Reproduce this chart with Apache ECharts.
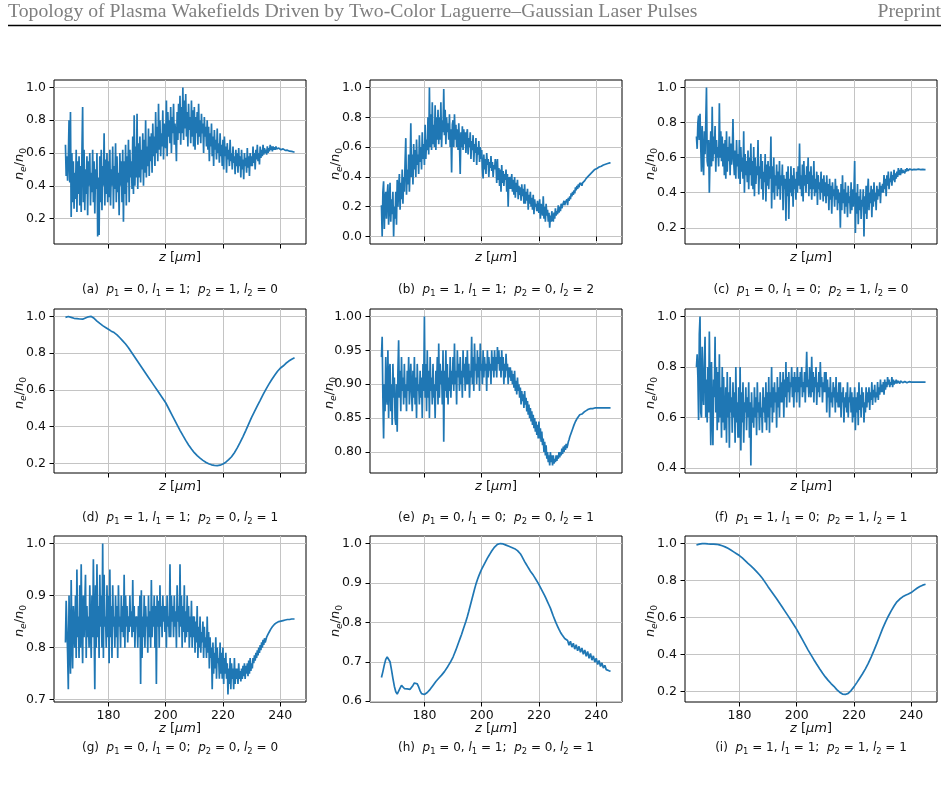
<!DOCTYPE html>
<html><head><meta charset="utf-8">
<script src="https://cdn.jsdelivr.net/npm/echarts@6/dist/echarts.min.js"></script>
<style>html,body{margin:0;padding:0;background:#fff}#c{width:949px;height:789px}</style>
</head><body><div id="c"></div>
<script>
// ---------- text ----------
const headerTitle = 'Topology of Plasma Wakefields Driven by Two-Color Laguerre–Gaussian Laser Pulses';
const headerRight = 'Preprint';
const panelLetters = ['a','b','c','d','e','f','g','h','i'];
const p1Values = [0,1,0,1,0,1,0,0,1];
const l1Values = [1,1,0,1,0,0,0,1,1];
const p2Values = [1,0,1,0,0,1,0,0,1];
const l2Values = [0,2,0,1,1,1,0,1,1];

// ---------- axes ----------
const xTicks = [180,200,220,240];
const yTicksA = [0.2,0.4,0.6,0.8,1.0];
const yTicksB = [0.0,0.2,0.4,0.6,0.8,1.0];
const yTicksC = [0.2,0.4,0.6,0.8,1.0];
const yTicksD = [0.2,0.4,0.6,0.8,1.0];
const yTicksE = [0.80,0.85,0.90,0.95,1.00];
const yTicksF = [0.4,0.6,0.8,1.0];
const yTicksG = [0.7,0.8,0.9,1.0];
const yTicksH = [0.6,0.7,0.8,0.9,1.0];
const yTicksI = [0.2,0.4,0.6,0.8,1.0];
const yDecimals = [1,1,1,1,2,1,1,1,1];

// z sampling positions (micrometres)
function zGrid(step){ const a=[]; const n=Math.round(80/step); for(let k=0;k<=n;k++) a.push(+(165+k*step).toFixed(2)); return a; }
const zDense = zGrid(0.25);  // 165 .. 245
const zFine = zGrid(0.5);
const zCoarse = zGrid(1);

// ---------- series values (n_e/n_0) ----------
const densityA = [
0.65,0.46,0.58,0.43,0.57,0.80,0.42,0.85,0.21,0.60, 0.30,0.55,0.26,0.48,0.32,0.62,0.24,0.55,0.35,0.58,
0.28,0.52,0.24,0.60,0.88,0.30,0.62,0.25,0.50,0.35, 0.58,0.22,0.55,0.40,0.60,0.28,0.48,0.36,0.62,0.30,
0.55,0.23,0.50,0.38,0.60,0.09,0.45,0.10,0.58,0.30, 0.62,0.25,0.52,0.40,0.72,0.28,0.56,0.35,0.60,0.30,
0.55,0.33,0.62,0.28,0.50,0.40,0.64,0.26,0.52,0.38, 0.66,0.30,0.58,0.36,0.48,0.22,0.60,0.40,0.55,0.30,
0.62,0.18,0.55,0.35,0.65,0.28,0.58,0.42,0.68,0.30, 0.62,0.45,0.55,0.38,0.70,0.35,0.83,0.40,0.64,0.45,
0.84,0.38,0.66,0.45,0.70,0.42,0.62,0.50,0.72,0.40, 0.68,0.48,0.80,0.45,0.64,0.52,0.75,0.46,0.70,0.55,
0.72,0.48,0.78,0.58,0.70,0.52,0.85,0.60,0.76,0.55, 0.90,0.62,0.80,0.58,0.72,0.64,0.86,0.56,0.78,0.66,
0.63,0.92,0.58,0.85,0.70,0.80,0.66,0.88,0.60,0.82, 0.72,0.90,0.65,0.78,0.70,0.55,0.85,0.68,0.90,0.72,
0.95,0.65,0.88,0.72,1.00,0.68,0.92,0.75,0.96,0.70, 0.85,0.64,0.90,0.74,0.82,0.66,0.92,0.70,0.86,0.64,
0.88,0.62,0.82,0.72,0.85,0.65,0.90,0.70,0.80,0.66, 0.84,0.72,0.78,0.60,0.82,0.70,0.76,0.64,0.80,0.62,
0.76,0.55,0.72,0.64,0.78,0.58,0.70,0.52,0.74,0.62, 0.68,0.56,0.75,0.60,0.66,0.54,0.72,0.58,0.65,0.52,
0.68,0.50,0.70,0.58,0.64,0.48,0.66,0.56,0.62,0.52, 0.68,0.55,0.60,0.50,0.64,0.54,0.58,0.47,0.62,0.52,
0.60,0.48,0.63,0.52,0.58,0.45,0.62,0.50,0.56,0.44, 0.60,0.52,0.57,0.48,0.63,0.51,0.58,0.46,0.60,0.52,
0.58,0.52,0.64,0.54,0.60,0.50,0.62,0.56,0.65,0.55, 0.60,0.53,0.64,0.57,0.62,0.58,0.65,0.59,0.63,0.60,
0.62,0.59,0.64,0.60,0.63,0.61,0.65,0.62,0.64,0.61, 0.64,0.62,0.635,0.62,0.64,0.625,0.635,0.62,0.63,0.62,
0.63,0.62,0.628,0.618,0.625,0.617,0.622,0.616,0.62,0.614, 0.617,0.613,0.614,0.611,0.612,0.609,0.61,0.607,0.607,0.606,
0.605];

const densityB = [
0.21,0.00,0.30,0.37,0.05,0.25,0.30,0.12,0.28,0.35, 0.08,0.22,0.36,0.10,0.25,0.15,0.30,0.00,0.20,0.12,
0.30,0.08,0.38,0.20,0.32,0.42,0.18,0.36,0.25,0.45, 0.22,0.40,0.30,0.50,0.66,0.28,0.45,0.35,0.55,0.30,
0.45,0.76,0.40,0.55,0.35,0.62,0.45,0.58,0.40,0.65, 0.48,0.55,0.42,0.68,0.50,0.60,0.45,0.70,0.52,0.62,
0.48,0.75,0.52,0.65,0.58,0.80,0.55,1.00,0.60,0.82, 0.58,0.90,0.62,0.75,0.60,0.88,0.58,0.80,0.65,0.85,
0.62,0.80,0.65,0.90,0.60,0.78,0.70,0.99,0.68,0.85, 0.62,0.80,0.70,0.76,0.65,0.82,0.60,0.72,0.43,0.75,
0.78,0.60,0.82,0.65,0.75,0.60,0.72,0.58,0.76,0.62, 0.42,0.70,0.60,0.74,0.58,0.72,0.62,0.70,0.56,0.68,
0.72,0.55,0.66,0.60,0.70,0.52,0.64,0.58,0.68,0.50, 0.62,0.56,0.66,0.48,0.60,0.55,0.64,0.50,0.60,0.52,
0.58,0.45,0.39,0.55,0.45,0.52,0.42,0.56,0.48,0.52, 0.40,0.50,0.46,0.54,0.44,0.50,0.40,0.48,0.45,0.52,
0.48,0.36,0.52,0.38,0.46,0.34,0.45,0.30,0.48,0.36, 0.44,0.34,0.42,0.38,0.45,0.30,0.42,0.20,0.40,0.32,
0.40,0.32,0.42,0.30,0.38,0.28,0.40,0.26,0.36,0.30, 0.38,0.25,0.34,0.28,0.33,0.24,0.35,0.27,0.32,0.22,
0.35,0.22,0.30,0.24,0.32,0.18,0.28,0.22,0.30,0.20, 0.26,0.18,0.28,0.15,0.25,0.20,0.22,0.17,0.24,0.18,
0.16,0.25,0.12,0.22,0.18,0.14,0.27,0.12,0.20,0.10, 0.22,0.14,0.18,0.10,0.16,0.06,0.14,0.10,0.17,0.12,
0.10,0.16,0.12,0.19,0.14,0.17,0.15,0.21,0.16,0.20, 0.17,0.22,0.19,0.21,0.20,0.24,0.21,0.23,0.22,0.25,
0.21,0.26,0.24,0.27,0.25,0.29,0.27,0.30,0.28,0.31, 0.29,0.33,0.31,0.34,0.32,0.35,0.33,0.36,0.345,0.36,
0.34,0.36,0.365,0.37,0.375,0.38,0.39,0.395,0.40,0.405, 0.41,0.415,0.42,0.425,0.43,0.435,0.44,0.445,0.45,0.452,
0.455,0.457,0.46,0.463,0.466,0.468,0.47,0.472,0.475,0.478, 0.48,0.482,0.483,0.485,0.486,0.488,0.49,0.491,0.492,0.494,
0.495];

const densityC = [
0.72,0.65,0.80,0.84,0.70,0.85,0.66,0.52,0.78,0.60, 0.50,0.75,0.62,0.80,1.00,0.58,0.55,0.70,0.40,0.62,
0.75,0.55,0.89,0.58,0.72,0.62,0.78,0.52,0.70,0.60, 0.66,0.55,0.91,0.60,0.75,0.58,0.72,0.55,0.68,0.50,
0.70,0.48,0.75,0.52,0.66,0.58,0.72,0.50,0.68,0.56, 0.62,0.82,0.58,0.50,0.64,0.48,0.70,0.55,0.62,0.48,
0.70,0.45,0.66,0.52,0.60,0.48,0.75,0.40,0.62,0.50, 0.58,0.46,0.64,0.42,0.60,0.50,0.68,0.44,0.58,0.42,
0.66,0.38,0.60,0.45,0.55,0.50,0.70,0.39,0.55,0.48, 0.62,0.42,0.58,0.36,0.52,0.46,0.62,0.35,0.56,0.44,
0.58,0.42,0.55,0.48,0.72,0.31,0.55,0.40,0.60,0.36, 0.50,0.44,0.56,0.38,0.52,0.42,0.58,0.36,0.50,0.44,
0.56,0.30,0.50,0.42,0.48,0.24,0.52,0.38,0.55,0.25, 0.48,0.40,0.55,0.38,0.50,0.32,0.54,0.42,0.48,0.36,
0.52,0.40,0.55,0.44,0.68,0.42,0.50,0.38,0.56,0.35, 0.58,0.44,0.50,0.40,0.55,0.45,0.60,0.38,0.52,0.42,
0.55,0.36,0.50,0.42,0.58,0.38,0.48,0.40,0.52,0.33, 0.50,0.42,0.46,0.36,0.52,0.40,0.48,0.35,0.50,0.38,
0.46,0.34,0.50,0.38,0.45,0.30,0.48,0.36,0.44,0.28, 0.46,0.38,0.42,0.32,0.48,0.36,0.44,0.30,0.42,0.34,
0.40,0.20,0.45,0.30,0.50,0.34,0.42,0.28,0.46,0.32, 0.40,0.26,0.44,0.34,0.38,0.28,0.46,0.30,0.42,0.32,
0.40,0.58,0.17,0.40,0.28,0.45,0.22,0.38,0.30,0.42, 0.25,0.36,0.32,0.42,0.15,0.38,0.28,0.44,0.25,0.40,
0.48,0.30,0.40,0.34,0.44,0.26,0.42,0.32,0.46,0.35, 0.40,0.30,0.44,0.36,0.42,0.38,0.46,0.34,0.44,0.40,
0.45,0.40,0.50,0.42,0.48,0.38,0.50,0.44,0.52,0.42, 0.48,0.46,0.52,0.44,0.50,0.47,0.53,0.46,0.51,0.48,
0.52,0.49,0.54,0.50,0.53,0.50,0.54,0.51,0.53,0.52, 0.54,0.51,0.535,0.52,0.54,0.525,0.535,0.52,0.535,0.528,
0.535,0.53,0.534,0.531,0.533,0.531,0.534,0.532,0.533,0.532, 0.534,0.532,0.533,0.532,0.533,0.532,0.533,0.532,0.532,0.532,
0.532];

const densityD = [
0.995,1.0,0.995,0.99,0.988,0.986,0.985,0.992,0.998,1.0,
0.99,0.975,0.962,0.95,0.94,0.93,0.92,0.912,0.9,0.884,
0.867,0.85,0.83,0.806,0.783,0.76,0.737,0.714,0.691,0.668,
0.645,0.622,0.599,0.576,0.553,0.53,0.5,0.47,0.44,0.41,
0.38,0.352,0.325,0.3,0.278,0.258,0.242,0.228,0.216,0.206,
0.198,0.192,0.189,0.188,0.19,0.196,0.206,0.22,0.236,0.258,
0.284,0.314,0.346,0.38,0.415,0.45,0.482,0.513,0.543,0.574,
0.603,0.63,0.655,0.678,0.7,0.718,0.73,0.745,0.757,0.767,
0.775];

const densityE = [
0.94,0.97,0.88,0.82,0.90,0.86,0.94,0.88,0.87,0.95, 0.85,0.92,0.93,0.86,0.90,0.84,0.93,0.88,0.91,0.85,
0.84,0.90,0.83,0.92,0.965,0.88,0.92,0.86,0.94,0.89, 0.91,0.87,0.93,0.88,0.90,0.86,0.92,0.89,0.94,0.87,
0.87,0.93,0.89,0.86,0.92,0.88,0.94,0.87,0.91,0.85, 0.93,0.89,0.90,0.87,0.92,0.88,0.91,0.85,0.93,0.89,
1.00,0.88,0.93,0.86,0.95,0.88,0.92,0.85,0.94,0.89, 0.91,0.87,0.93,0.88,0.90,0.85,0.92,0.89,0.94,0.87,
0.96,0.88,0.93,0.90,0.92,0.87,0.95,0.815,0.92,0.89, 0.95,0.88,0.93,0.87,0.91,0.89,0.94,0.88,0.92,0.90,
0.94,0.89,0.96,0.90,0.92,0.87,0.95,0.91,0.93,0.89, 0.94,0.90,0.92,0.88,0.95,0.91,0.93,0.89,0.94,0.90,
0.95,0.90,0.93,0.88,0.92,0.91,0.97,0.90,0.94,0.89, 0.96,0.92,0.93,0.90,0.95,0.91,0.94,0.89,0.96,0.92,
0.93,0.90,0.95,0.91,0.94,0.92,0.93,0.89,0.95,0.91, 0.94,0.92,0.93,0.90,0.95,0.92,0.94,0.91,0.95,0.92,
0.94,0.91,0.955,0.93,0.95,0.92,0.94,0.91,0.95,0.92, 0.94,0.90,0.93,0.91,0.945,0.92,0.93,0.90,0.925,0.91,
0.925,0.905,0.92,0.90,0.915,0.895,0.92,0.89,0.905,0.885, 0.91,0.89,0.90,0.88,0.895,0.87,0.89,0.875,0.885,0.865,
0.89,0.87,0.88,0.86,0.875,0.855,0.87,0.85,0.865,0.845, 0.86,0.84,0.855,0.835,0.85,0.83,0.845,0.825,0.84,0.82,
0.845,0.82,0.835,0.815,0.83,0.81,0.82,0.80,0.815,0.795, 0.81,0.79,0.80,0.785,0.795,0.78,0.80,0.785,0.795,0.78,
0.795,0.783,0.79,0.785,0.795,0.787,0.795,0.79,0.80,0.792, 0.80,0.795,0.805,0.797,0.808,0.80,0.81,0.803,0.812,0.806,
0.81,0.815,0.818,0.822,0.824,0.828,0.83,0.834,0.836,0.84, 0.842,0.845,0.846,0.849,0.85,0.852,0.853,0.855,0.855,0.857,
0.856,0.857,0.858,0.859,0.86,0.86,0.861,0.862,0.862,0.863, 0.863,0.863,0.864,0.864,0.864,0.864,0.864,0.865,0.865,0.865,
0.865,0.865,0.865,0.865,0.865,0.865,0.865,0.865,0.865,0.865, 0.865,0.865,0.865,0.865,0.865,0.865,0.865,0.865,0.865,0.865,
0.865];

const densityF = [
0.80,0.85,0.76,0.59,0.93,1.00,0.62,0.60,0.88,0.70, 0.65,0.82,0.92,0.60,0.75,0.58,0.80,0.62,0.94,0.70,
0.49,0.82,0.62,0.49,0.75,0.68,0.92,0.62,0.80,0.55, 0.78,0.58,0.85,0.60,0.72,0.52,0.80,0.58,0.76,0.55,
0.58,0.72,0.50,0.78,0.60,0.70,0.48,0.76,0.62,0.68, 0.54,0.74,0.60,0.70,0.50,0.80,0.58,0.66,0.52,0.72,
0.52,0.80,0.47,0.70,0.58,0.74,0.50,0.66,0.62,0.72, 0.55,0.68,0.60,0.74,0.52,0.66,0.41,0.70,0.58,0.64,
0.56,0.72,0.60,0.68,0.53,0.74,0.62,0.66,0.55,0.70, 0.60,0.64,0.54,0.72,0.62,0.68,0.58,0.74,0.55,0.70,
0.60,0.76,0.54,0.70,0.64,0.80,0.58,0.72,0.62,0.74, 0.66,0.70,0.56,0.76,0.64,0.72,0.60,0.78,0.66,0.74,
0.66,0.78,0.60,0.75,0.68,0.82,0.64,0.76,0.70,0.78, 0.66,0.74,0.72,0.80,0.68,0.76,0.64,0.78,0.70,0.76,
0.66,0.80,0.70,0.76,0.64,0.78,0.72,0.80,0.68,0.74, 0.70,0.78,0.66,0.76,0.86,0.72,0.75,0.68,0.80,0.72,
0.68,0.84,0.70,0.78,0.66,0.76,0.72,0.80,0.65,0.74, 0.70,0.78,0.68,0.82,0.72,0.76,0.66,0.74,0.70,0.78,
0.70,0.78,0.62,0.75,0.68,0.72,0.60,0.76,0.66,0.70, 0.64,0.74,0.68,0.72,0.62,0.76,0.66,0.70,0.64,0.74,
0.64,0.74,0.60,0.70,0.66,0.72,0.58,0.68,0.64,0.70, 0.62,0.74,0.60,0.68,0.66,0.72,0.62,0.70,0.58,0.68,
0.60,0.72,0.55,0.68,0.62,0.70,0.57,0.74,0.63,0.69, 0.60,0.72,0.64,0.70,0.58,0.66,0.62,0.72,0.64,0.70,
0.66,0.72,0.63,0.70,0.67,0.74,0.65,0.71,0.68,0.73, 0.66,0.70,0.68,0.74,0.67,0.72,0.69,0.75,0.70,0.73,
0.70,0.74,0.69,0.75,0.71,0.74,0.72,0.76,0.73,0.75, 0.72,0.74,0.73,0.76,0.72,0.75,0.73,0.745,0.735,0.75,
0.735,0.745,0.74,0.75,0.735,0.745,0.74,0.742,0.738,0.745, 0.737,0.743,0.739,0.742,0.738,0.741,0.739,0.742,0.739,0.741,
0.74,0.74,0.74,0.74,0.74,0.74,0.74,0.74,0.74,0.74, 0.74,0.74,0.74,0.74,0.74,0.74,0.74,0.74,0.74,0.74,
0.74];

const densityG = [
0.81,0.89,0.84,0.79,0.72,0.90,0.80,0.75,0.93,0.82, 0.76,0.88,0.84,0.80,0.90,0.78,0.95,0.82,0.86,0.78,
0.92,0.80,0.96,0.84,0.77,0.90,0.82,0.88,0.94,0.78, 0.88,0.82,0.86,0.80,0.92,0.84,0.78,0.90,0.82,0.97,
0.84,0.72,0.92,0.80,0.96,0.82,0.88,0.78,0.94,0.84, 0.90,0.80,1.00,0.78,0.94,0.84,0.86,0.80,0.92,0.82,
0.90,0.77,0.95,0.82,0.88,0.78,0.92,0.84,0.86,0.80, 0.90,0.82,0.88,0.78,0.92,0.84,0.86,0.80,0.90,0.83,
0.88,0.82,0.94,0.80,0.90,0.84,0.88,0.81,0.86,0.83, 0.90,0.84,0.87,0.82,0.93,0.83,0.88,0.80,0.86,0.84,
0.86,0.80,0.88,0.82,0.90,0.73,0.91,0.78,0.86,0.82, 0.90,0.80,0.88,0.84,0.86,0.79,0.90,0.82,0.87,0.80,
0.93,0.82,0.88,0.84,0.90,0.80,0.88,0.73,0.90,0.84, 0.89,0.80,0.92,0.84,0.88,0.82,0.90,0.85,0.88,0.83,
0.88,0.80,0.90,0.84,0.86,0.82,0.96,0.82,0.90,0.85, 0.88,0.82,0.90,0.84,0.87,0.80,0.92,0.85,0.88,0.82,
0.96,0.84,0.90,0.80,0.88,0.83,0.92,0.81,0.87,0.82, 0.90,0.83,0.88,0.80,0.86,0.82,0.89,0.80,0.86,0.82,
0.86,0.79,0.85,0.81,0.88,0.78,0.84,0.80,0.86,0.79, 0.83,0.81,0.85,0.78,0.84,0.80,0.82,0.78,0.86,0.79,
0.83,0.76,0.82,0.78,0.80,0.72,0.81,0.75,0.79,0.76, 0.82,0.74,0.80,0.77,0.78,0.74,0.81,0.75,0.79,0.74,
0.80,0.73,0.78,0.75,0.79,0.74,0.77,0.71,0.76,0.73, 0.78,0.72,0.77,0.74,0.76,0.72,0.78,0.73,0.76,0.74,
0.76,0.73,0.77,0.74,0.755,0.735,0.76,0.74,0.765,0.745, 0.77,0.74,0.765,0.75,0.77,0.745,0.775,0.75,0.78,0.755,
0.77,0.76,0.78,0.77,0.785,0.775,0.79,0.78,0.795,0.785, 0.80,0.79,0.805,0.795,0.81,0.80,0.815,0.805,0.818,0.81,
0.815,0.82,0.822,0.826,0.828,0.831,0.833,0.836,0.838,0.84, 0.842,0.843,0.845,0.846,0.847,0.848,0.849,0.85,0.85,0.851,
0.851,0.851,0.852,0.852,0.852,0.853,0.853,0.853,0.853,0.854, 0.854,0.854,0.854,0.854,0.855,0.855,0.855,0.855,0.855,0.855,
0.855];

const densityH = [
0.660,0.675,0.692,0.706,0.712,0.711,0.700,0.680,0.658,0.638,
0.624,0.618,0.622,0.633,0.640,0.637,0.632,0.630,0.631,0.629,
0.630,0.634,0.640,0.646,0.648,0.644,0.636,0.626,0.619,0.617,
0.617,0.619,0.622,0.626,0.630,0.635,0.640,0.645,0.650,0.654,
0.658,0.662,0.666,0.670,0.675,0.680,0.686,0.692,0.698,0.705,
0.712,0.721,0.730,0.740,0.750,0.760,0.770,0.781,0.792,0.803,
0.815,0.828,0.842,0.856,0.870,0.884,0.897,0.908,0.918,0.927,
0.935,0.942,0.949,0.956,0.963,0.969,0.975,0.981,0.986,0.991,
0.995,0.998,1.000,1.000,1.000,0.999,0.997,0.996,0.994,0.993,
0.991,0.990,0.988,0.987,0.985,0.982,0.978,0.974,0.968,0.961,
0.954,0.948,0.942,0.936,0.930,0.925,0.920,0.914,0.908,0.902,
0.896,0.889,0.882,0.875,0.868,0.860,0.852,0.844,0.836,0.826,
0.816,0.807,0.798,0.790,0.782,0.775,0.769,0.764,0.759,0.755,
0.754,0.742,0.752,0.737,0.747,0.732,0.743,0.728,0.739,0.724,
0.735,0.719,0.730,0.714,0.726,0.709,0.721,0.704,0.715,0.699,
0.709,0.693,0.703,0.688,0.697,0.684,0.691,0.680,0.685,0.677,0.676];

const densityI = [
0.992,0.997,1.0,1.0,0.998,0.997,0.997,0.996,0.993,0.988,
0.982,0.974,0.965,0.955,0.945,0.935,0.922,0.908,0.893,0.879,
0.864,0.848,0.831,0.812,0.79,0.767,0.745,0.723,0.701,0.678,
0.655,0.632,0.609,0.585,0.561,0.536,0.508,0.48,0.452,0.424,
0.398,0.372,0.347,0.323,0.3,0.279,0.26,0.243,0.228,0.21,
0.196,0.186,0.184,0.19,0.205,0.225,0.248,0.272,0.296,0.322,
0.352,0.386,0.422,0.46,0.5,0.54,0.575,0.607,0.636,0.662,
0.685,0.7,0.712,0.72,0.727,0.735,0.747,0.758,0.768,0.775,
0.78];

const panelZ = [zDense,zDense,zDense,zCoarse,zDense,zDense,zDense,zFine,zCoarse];
const panelY = [densityA,densityB,densityC,densityD,densityE,densityF,densityG,densityH,densityI];
const panelYTicks = [yTicksA,yTicksB,yTicksC,yTicksD,yTicksE,yTicksF,yTicksG,yTicksH,yTicksI];

// ---------- layout ----------
const colLeft = [54, 370, 685];
const colWidth = 252;
const rowTop = [80, 309, 536];
const rowHeight = [164, 164, 166];
const xLabelY = [258, 487, 729];
const captionY = [290, 518, 748];
const FONT = '"DejaVu Sans", sans-serif';
const tickColor = '#111';

const grids=[], xAxes=[], yAxes=[], series=[], graphics=[];

const mathRich = (fs) => ({
  r:{fontFamily:FONT, fontSize:fs, fill:'#111'},
  i:{fontFamily:FONT, fontSize:fs, fontStyle:'italic', fill:'#111'},
  s:{fontFamily:FONT, fontSize:fs*0.7, fontStyle:'italic', fill:'#111', padding:[Math.round(fs*0.62),0,0,0]},
  s0:{fontFamily:FONT, fontSize:fs*0.7, fill:'#111', padding:[Math.round(fs*0.62),0,0,0]},
  d:{fontFamily:FONT, fontSize:fs*0.7, fill:'#111', padding:[Math.round(fs*0.62),0,0,0]}
});

for (let k=0;k<9;k++){
  const row = Math.floor(k/3), col = k%3;
  const left = colLeft[col], top = rowTop[row], h = rowHeight[row];
  grids.push({left, top, width: colWidth, height: h, show:true, borderColor:'#000', borderWidth:1,
              backgroundColor:'transparent', containLabel:false, outerBoundsMode:'none'});
  xAxes.push({type:'value', gridIndex:k, min:161, max:249,
    axisLine:{show:false},
    axisTick:{show:true, inside:false, length:4.5, customValues:xTicks, lineStyle:{color:'#000', width:1}},
    axisLabel:{show: row===2, customValues:xTicks, fontSize:12.5, fontFamily:FONT, color:tickColor, margin:7},
    splitLine:{show:true, lineStyle:{color:'#c4c4c4', width:1}}
  });
  const dec = yDecimals[k];
  yAxes.push({type:'value', gridIndex:k,
    min: v => v.min - 0.05*(v.max - v.min),
    max: v => v.max + 0.05*(v.max - v.min),
    axisLine:{show:false},
    axisTick:{show:true, inside:false, length:4.5, customValues:panelYTicks[k], lineStyle:{color:'#000', width:1}},
    axisLabel:{show:true, customValues:panelYTicks[k], fontSize:12.5, fontFamily:FONT, color:tickColor, margin:8,
               formatter: v => v.toFixed(dec)},
    splitLine:{show:true, lineStyle:{color:'#c4c4c4', width:1}}
  });
  const zs = panelZ[k], ys = panelY[k];
  series.push({type:'line', xAxisIndex:k, yAxisIndex:k, showSymbol:false, symbol:'none', animation:false,
    lineStyle:{color:'#1f77b4', width:1.7}, z:5,
    data: zs.map((z,j)=>[z, ys[j]]).filter(p=>p[1]!==undefined)});

  // y-axis name n_e/n_0
  const yLabelX = left - (dec===2 ? 40 : 34);
  graphics.push({type:'text', x: yLabelX, y: top + h/2 + 2, rotation: Math.PI/2, z:10,
    style:{text:'{i|n}{s|e}{r|/}{i|n}{s0|0}', rich: mathRich(13), align:'center', verticalAlign:'middle'}});
  // x-axis name z [μm]
  graphics.push({type:'text', x: left + colWidth/2, y: xLabelY[row], z:10,
    style:{text:'{i|z}{r| [}{i|μm}{r|]}', rich: mathRich(13), align:'center', verticalAlign:'middle'}});
  // caption
  const cap = `{r|(${panelLetters[k]})  }{i|p}{d|1}{r| = ${p1Values[k]}, }{i|l}{d|1}{r| = ${l1Values[k]};  }{i|p}{d|2}{r| = ${p2Values[k]}, }{i|l}{d|2}{r| = ${l2Values[k]}}`;
  graphics.push({type:'text', x: left + colWidth/2, y: captionY[row], z:10,
    style:{text:cap, rich: mathRich(12), align:'center', verticalAlign:'middle'}});
}

// header
const SERIF = '"Liberation Serif", "DejaVu Serif", serif';
function fitSize(text, family, target){
  const ctx = document.createElement('canvas').getContext('2d');
  ctx.font = '100px ' + family;
  return 100 * target / ctx.measureText(text).width;
}
const hSize = fitSize(headerTitle, SERIF, 690);
graphics.push({type:'text', x:8, y:12, z:10, style:{text:headerTitle, fontFamily:SERIF, fontSize:hSize, fill:'#7f7f7f', align:'left', verticalAlign:'middle'}});
graphics.push({type:'text', x:941, y:12, z:10, style:{text:headerRight, fontFamily:SERIF, fontSize:hSize, fill:'#7f7f7f', align:'right', verticalAlign:'middle'}});
graphics.push({type:'line', z:10, shape:{x1:8, y1:25.5, x2:941, y2:25.5}, style:{stroke:'#000', lineWidth:1.3}});

const chart = echarts.init(document.getElementById('c'), null, {renderer:'canvas'});
chart.setOption({animation:false, backgroundColor:'#fff', grid:grids, xAxis:xAxes, yAxis:yAxes, series, graphic:graphics});
</script></body></html>
